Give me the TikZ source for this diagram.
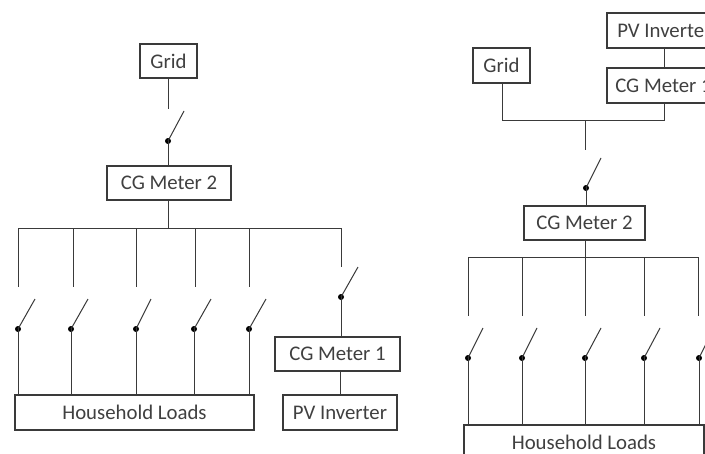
\documentclass[tikz,border=0pt]{standalone}
\usepackage{fontspec}
\setmainfont{Carlito}
\definecolor{wire}{HTML}{3A3A3A}
\definecolor{label}{HTML}{404040}
\tikzset{
  wireline/.style={draw=wire,line width=0.75pt},
  bladeline/.style={draw=wire,line width=0.75pt},
  box/.style n args={2}{draw=wire,line width=0.8pt,fill=white,text=label,inner sep=0pt,
    font=\fontsize{15.6pt}{18pt}\selectfont,minimum width=#1*0.75pt,minimum height=#2*0.75pt},
  boxtext/.style={text=label,font=\fontsize{15.6pt}{18pt}\selectfont,inner sep=0pt},
  pivot/.style={circle,fill=black,inner sep=0pt,minimum size=4.5pt}
}
\begin{document}
\begin{tikzpicture}[x=0.75pt,y=-0.75pt]
\useasboundingbox (0,0) rectangle (705,453);
\clip (0,0) rectangle (705,453);
\fill[white] (0,0) rectangle (705,453);
% ---------- left diagram ----------
\node[box={57}{34}] (grid) at (168.5,61) {Grid};
\node[box={124}{34}] (cg2) at (169,183) {CG Meter 2};
\node[box={239}{35}] (loads) at (134.5,412.5) {Household Loads};
\node[box={125}{34}] (cg1) at (337.5,354) {CG Meter 1};
\node[box={114}{35}] (pv) at (340,412.5) {PV Inverter};
\coordinate (gridstub) at (168,109);
\node[pivot] (gridpivot) at (168,141) {};
\coordinate (gridtip) at (184,111);
\draw[wireline] (grid.south -| gridstub) -- (gridstub);
\draw[bladeline] (gridpivot.center) -- (gridtip);
\draw[wireline] (gridpivot.center) -- (gridpivot |- cg2.north);
\coordinate (bus) at (168,228);
\draw[wireline] (cg2.south -| bus) -- (bus);
\coordinate (busL) at (18,228);
\coordinate (busR) at (341,228);
\draw[wireline] (busL) -- (busR);
\foreach \name/\top/\low/\tipx in {a/18/18/35,b/73/71/88,c/136/136/151,d/195/194/211,e/249/249/266}{
  \coordinate (\name top) at (\top,228);
  \coordinate (\name stub) at (\top,287);
  \node[pivot] (\name pivot) at (\low,329) {};
  \coordinate (\name tip) at (\tipx,299);
  \draw[wireline] (\name top) -- (\name stub);
  \draw[bladeline] (\name pivot.center) -- (\name tip);
  \draw[wireline] (\name pivot.center) -- (\name pivot |- loads.north);
}
\coordinate (fstub) at (341,267);
\node[pivot] (fpivot) at (341,297) {};
\coordinate (ftip) at (358,267);
\draw[wireline] (busR) -- (fstub);
\draw[bladeline] (fpivot.center) -- (ftip);
\draw[wireline] (fpivot.center) -- (fpivot |- cg1.north);
\coordinate (cgpv) at (340,380);
\draw[wireline] (cg1.south -| cgpv) -- (pv.north -| cgpv);
% ---------- right diagram ----------
\node[box={150}{35}] (rpv) at (682,30.5) {};
\node[boxtext,anchor=west] (rpvtext) at (617,30.5) {PV Inverte};
\node[box={150}{35}] (rcg1) at (682,85.5) {};
\node[boxtext,anchor=west] (rcg1text) at (615,85.5) {CG Meter 1};
\node[box={57}{35}] (rgrid) at (501.5,65.5) {Grid};
\node[box={121}{34}] (rcg2) at (584.5,223) {CG Meter 2};
\node[box={240}{60}] (rloads) at (584,455) {};
\node[boxtext] (rloadstext) at (584,442.5) {Household Loads};
\coordinate (rjoin) at (585,120);
\coordinate (rgridcorner) at (502,120);
\coordinate (rcgcorner) at (664,120);
\draw[wireline] (rpv.south -| rcgcorner) -- (rcg1.north -| rcgcorner);
\draw[wireline] (rgrid.south -| rgridcorner) -- (rgridcorner) -- (rcgcorner) -- (rcg1.south -| rcgcorner);
\coordinate (rstub) at (585,150);
\node[pivot] (rpivot) at (586,188) {};
\coordinate (rtip) at (601,158);
\draw[wireline] (rjoin) -- (rstub);
\draw[bladeline] (rpivot.center) -- (rtip);
\draw[wireline] (rpivot.center) -- (rpivot.center |- rcg2.north);
\coordinate (rbus) at (585,257);
\draw[wireline] (rcg2.south -| rbus) -- (rbus);
\coordinate (rbusL) at (468,257);
\coordinate (rbusR) at (698,257);
\draw[wireline] (rbusL) -- (rbusR);
\foreach \name/\top/\low/\tipx in {p/468/468/483,q/522/522/537,r/585/585/601,s/644/644/660,t/698/699/714}{
  \coordinate (\name top) at (\top,257);
  \coordinate (\name stub) at (\top,316);
  \node[pivot] (\name pivot) at (\low,358) {};
  \coordinate (\name tip) at (\tipx,328);
  \draw[wireline] (\name top) -- (\name stub);
  \draw[bladeline] (\name pivot.center) -- (\name tip);
  \draw[wireline] (\name pivot.center) -- (\name pivot |- rloads.north);
}
\end{tikzpicture}
\end{document}
